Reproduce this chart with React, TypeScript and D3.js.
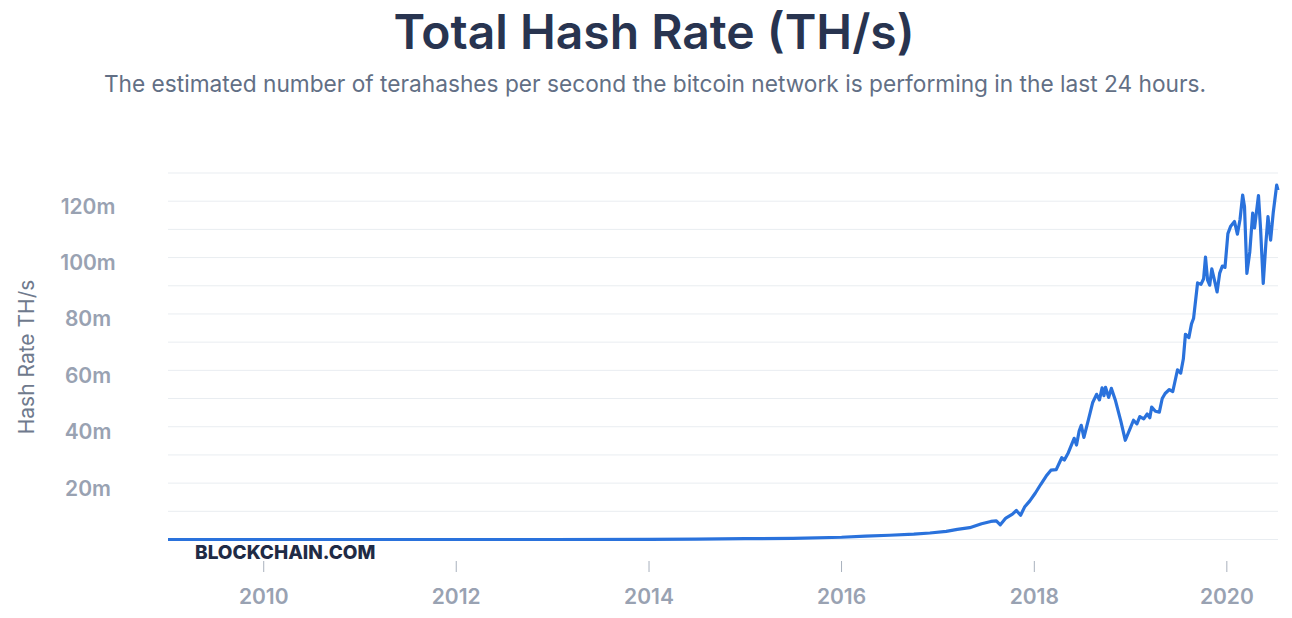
import React, { useEffect, useRef } from 'react';
import * as d3 from 'd3';

const width = 1292;
const height = 618;

const title = 'Total Hash Rate (TH/s)';
const subtitle = 'The estimated number of terahashes per second the bitcoin network is performing in the last 24 hours.';
const yAxisLabel = 'Hash Rate TH/s';
const watermark = 'BLOCKCHAIN.COM';

// dates of the series
const dates = [
    '2009-01-03', '2010-01-01', '2011-01-01', '2012-01-01', '2013-01-01', '2014-01-01', '2014-07-01',
    '2015-01-01', '2015-07-01', '2016-01-01', '2016-04-01', '2016-07-01', '2016-10-01', '2016-12-01',
    '2017-02-01', '2017-03-15', '2017-05-01', '2017-06-15', '2017-07-20', '2017-08-10', '2017-08-25',
    '2017-09-15', '2017-10-10', '2017-10-25', '2017-11-10', '2017-11-25', '2017-12-15', '2018-01-05',
    '2018-01-25', '2018-02-15', '2018-03-05', '2018-03-25', '2018-04-15', '2018-04-25', '2018-05-10',
    '2018-06-01', '2018-06-10', '2018-06-20', '2018-06-28', '2018-07-08', '2018-07-25', '2018-08-10',
    '2018-08-25', '2018-09-05', '2018-09-15', '2018-09-22', '2018-09-28', '2018-10-10', '2018-10-20',
    '2018-11-05', '2018-11-25', '2018-12-12', '2019-01-01', '2019-01-12', '2019-01-25', '2019-02-05',
    '2019-02-20', '2019-03-05', '2019-03-15', '2019-03-22', '2019-04-05', '2019-04-20', '2019-05-01',
    '2019-05-12', '2019-05-28', '2019-06-10', '2019-06-28', '2019-07-10', '2019-07-20', '2019-07-28',
    '2019-08-10', '2019-08-20', '2019-08-28', '2019-09-12', '2019-09-25', '2019-10-05', '2019-10-12',
    '2019-10-20', '2019-10-28', '2019-11-05', '2019-11-15', '2019-11-25', '2019-12-05', '2019-12-15',
    '2019-12-25', '2020-01-05', '2020-01-15', '2020-01-30', '2020-02-10', '2020-02-20', '2020-03-01',
    '2020-03-08', '2020-03-17', '2020-03-28', '2020-04-08', '2020-04-15', '2020-04-30', '2020-05-08',
    '2020-05-18', '2020-05-28', '2020-06-05', '2020-06-15', '2020-06-25', '2020-07-08', '2020-07-13',
];

// hash rate in millions of TH/s
const hashRate = [
    0, 0, 0, 0.00001, 0.00003, 0.01, 0.12,
    0.3, 0.4, 0.8, 1.2, 1.5, 1.9, 2.3,
    2.9, 3.6, 4.2, 5.6, 6.4, 6.6, 5.2,
    7.6, 9.0, 10.3, 8.6, 11.5, 13.7, 16.5,
    19.5, 22.5, 24.6, 24.8, 29.0, 28.2, 30.8,
    35.9, 33.5, 38.5, 40.5, 36.2, 42.4, 48.5,
    51.5, 49.5, 53.8, 51.0, 54.0, 50.4, 53.6,
    49.2, 42.0, 35.2, 39.8, 42.3, 41.0, 43.6,
    42.8, 44.5, 43.2, 47.0, 45.5, 45.2, 50.0,
    51.8, 53.2, 52.5, 60.2, 59.0, 64.0, 72.8,
    71.6, 76.5, 78.5, 91.0, 90.5, 92.5, 100.2,
    92.0, 90.2, 96.0, 92.0, 87.8, 94.5, 97.0,
    96.5, 108.5, 111.0, 112.8, 108.3, 113.5, 122.2,
    118.0, 94.4, 102.0, 115.8, 110.5, 122.0, 110.0,
    90.8, 105.0, 114.5, 106.2, 116.0, 125.7, 123.9,
];

const gridValues = [0, 10, 20, 30, 40, 50, 60, 70, 80, 90, 100, 110, 120, 130];
const yTickValues = [20, 40, 60, 80, 100, 120];

const App: React.FC = () => {
    const svgRef = useRef<SVGSVGElement | null>(null);

    useEffect(() => {
        const svg = d3.select(svgRef.current);
        svg.selectAll('*').remove();

        const parse = d3.timeParse('%Y-%m-%d');
        const data = dates.map((d, i) => ({ date: parse(d)!, value: hashRate[i] }));

        const x = d3.scaleTime()
            .domain([parse('2009-01-03')!, parse('2020-07-13')!])
            .range([168, 1278]);

        const y = d3.scaleLinear()
            .domain([0, 130])
            .range([539.5, 173]);

        const font = 'Inter, "Noto Sans", sans-serif';

        // title + subtitle
        svg.append('text')
            .attr('x', 654).attr('y', 49)
            .attr('text-anchor', 'middle')
            .attr('font-family', font)
            .attr('font-size', 48)
            .attr('font-weight', 600)
            .attr('fill', '#283450')
            .text(title);

        svg.append('text')
            .attr('x', 655).attr('y', 92)
            .attr('text-anchor', 'middle')
            .attr('font-family', font)
            .attr('font-size', 22.7)
            .attr('fill', '#626f85')
            .text(subtitle);

        // grid
        svg.append('g')
            .selectAll('line')
            .data(gridValues)
            .join('line')
            .attr('x1', 168).attr('x2', 1278)
            .attr('y1', d => y(d)).attr('y2', d => y(d))
            .attr('stroke', '#e9edf1')
            .attr('stroke-width', 1);

        // y tick labels
        svg.append('g')
            .selectAll('text')
            .data(yTickValues)
            .join('text')
            .attr('x', 88)
            .attr('y', d => y(d) + 12.5)
            .attr('text-anchor', 'middle')
            .attr('font-family', font)
            .attr('font-size', 21)
            .attr('font-weight', 600)
            .attr('fill', '#99a2b2')
            .text(d => `${d}m`);

        svg.append('text')
            .attr('transform', 'translate(34,357) rotate(-90)')
            .attr('text-anchor', 'middle')
            .attr('font-family', font)
            .attr('font-size', 21)
            .attr('fill', '#6f7a8d')
            .text(yAxisLabel);

        // x ticks
        const xTicks = x.ticks(d3.timeYear.every(2)!);
        const xg = svg.append('g');
        xg.selectAll('line')
            .data(xTicks)
            .join('line')
            .attr('x1', d => x(d)).attr('x2', d => x(d))
            .attr('y1', 561).attr('y2', 572)
            .attr('stroke', '#a9b1bd')
            .attr('stroke-width', 1);
        xg.selectAll('text')
            .data(xTicks)
            .join('text')
            .attr('x', d => x(d))
            .attr('y', 604)
            .attr('text-anchor', 'middle')
            .attr('font-family', font)
            .attr('font-size', 21)
            .attr('font-weight', 600)
            .attr('fill', '#99a2b2')
            .text(d => d3.timeFormat('%Y')(d));

        // line
        const line = d3.line<{ date: Date; value: number }>()
            .x(d => x(d.date))
            .y(d => y(d.value))
            .curve(d3.curveLinear);

        svg.append('path')
            .datum(data)
            .attr('d', line)
            .attr('fill', 'none')
            .attr('stroke', '#2a72dc')
            .attr('stroke-width', 3.2)
            .attr('stroke-linejoin', 'round');

        // watermark
        svg.append('text')
            .attr('x', 195).attr('y', 559)
            .attr('font-family', font)
            .attr('font-size', 19)
            .attr('font-weight', 800)
            .attr('fill', '#1f2b45')
            .text(watermark);
    }, []);

    return (
        <svg
            ref={svgRef}
            width={width}
            height={height}
            style={{ position: 'absolute', left: 0, top: 0, background: '#fff' }}
        />
    );
};

export default App;
